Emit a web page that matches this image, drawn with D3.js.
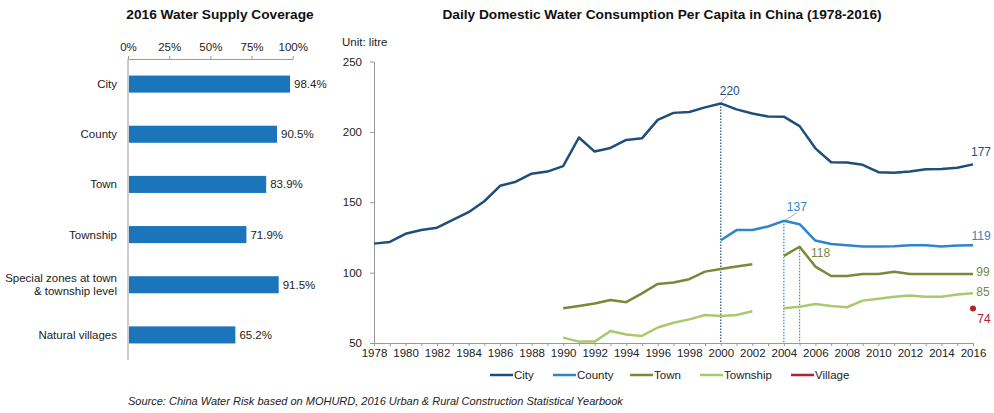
<!DOCTYPE html>
<html>
<head>
<meta charset="utf-8">
<script src="https://cdn.jsdelivr.net/npm/d3@7"></script>
<style>
  body { margin: 0; background: #fff; }
  svg { font-family: "Liberation Sans", Arial, sans-serif; }
  .axis text { fill: #222; font-size: 11.5px; }
  .axis path, .axis line { stroke: #999; }
</style>
</head>
<body>
<svg width="994" height="413"></svg>
<script>
// Bar chart data
let coverageCats = ['City', 'County', 'Town', 'Township', 'Special zones at town|& township level', 'Natural villages']
let coverageVals = [98.4, 90.5, 83.9, 71.9, 91.5, 65.2]
let pctTicks = [0, 25, 50, 75, 100]

// Line chart data
let years = d3.range(1978, 2017)
let yTicks = [50, 100, 150, 200, 250]
let city = [120.6, 121.8, 127.6, 130.3, 131.9, 137.5, 142.9, 150.7, 161.7, 164.6, 170.3, 171.8, 175.7,
            196.0, 186.0, 188.6, 194.3, 195.4, 208.5, 213.5, 214.1, 217.4, 220.2, 216.0, 213.0, 210.9,
            210.8, 204.1, 188.3, 178.4, 178.2, 176.6, 171.4, 170.9, 171.8, 173.5, 173.7, 174.5, 176.9]
let county = [null, null, null, null, null, null, null, null, null, null, null, null, null,
              null, null, null, null, null, null, null, null, null, 123.0, 130.2, 130.3, 132.8,
              136.8, 134.4, 122.8, 120.4, 119.5, 118.5, 118.5, 118.7, 119.5, 119.5, 118.5, 119.3, 119.4]
let town = [null, null, null, null, null, null, null, null, null, null, null, null, 74.7,
            76.3, 78.0, 80.6, 79.0, 85.3, 92.0, 93.0, 95.3, 100.7, 102.6, 104.3, 106.0, null,
            111.9, 118.4, 104.3, 97.6, 97.6, 99.0, 99.0, 100.7, 99.0, 99.0, 99.0, 99.0, 99.0]
let township = [null, null, null, null, null, null, null, null, null, null, null, null, 53.8,
                51.0, 51.0, 58.5, 56.0, 55.0, 61.0, 64.4, 66.8, 69.9, 69.2, 69.9, 72.5, null,
                74.7, 75.8, 77.7, 76.3, 75.4, 80.1, 81.5, 82.9, 83.7, 82.9, 82.9, 84.4, 85.3]
let village2016 = 74.6

let svg = d3.select('svg')

// ---------- Left: bar chart ----------
let bar = { left: 128, right: 292.7, top: 59, bottom: 360 }

let xPct = d3.scaleLinear().domain([0, 100]).range([bar.left, bar.right])
let yCat = d3.scaleBand().domain(coverageCats).range([bar.top, bar.bottom]).paddingInner(0.66).paddingOuter(0.33)

svg.append('text')
    .attr('x', 220).attr('y', 19)
    .attr('text-anchor', 'middle')
    .style('font-weight', 'bold').style('font-size', '13.7px').style('fill', '#111')
    .text('2016 Water Supply Coverage')

svg.append('g')
    .attr('class', 'axis')
    .attr('transform', `translate(0,${bar.top})`)
    .call(d3.axisTop(xPct).tickValues(pctTicks).tickFormat(d => d + '%').tickSize(3).tickSizeOuter(0))
    .call(g => g.selectAll('text').attr('dy', '-0.2em'))

svg.append('line')
    .attr('x1', bar.left).attr('x2', bar.left)
    .attr('y1', bar.top).attr('y2', bar.bottom)
    .attr('stroke', '#999')

svg.selectAll('.bar')
    .data(coverageCats)
    .enter()
    .append('rect')
    .attr('class', 'bar')
    .attr('x', bar.left + 1)
    .attr('y', d => yCat(d))
    .attr('width', (d, i) => xPct(coverageVals[i]) - bar.left - 1)
    .attr('height', yCat.bandwidth())
    .attr('fill', '#1b75bb')

svg.selectAll('.bar-label')
    .data(coverageCats)
    .enter()
    .append('text')
    .attr('class', 'bar-label')
    .attr('x', (d, i) => xPct(coverageVals[i]) + 4)
    .attr('y', d => yCat(d) + yCat.bandwidth() / 2)
    .attr('dy', '0.35em')
    .style('font-size', '11.5px').style('fill', '#222')
    .text((d, i) => coverageVals[i].toFixed(1) + '%')

svg.selectAll('.cat-label')
    .data(coverageCats)
    .enter()
    .append('text')
    .attr('class', 'cat-label')
    .attr('text-anchor', 'end')
    .style('font-size', '11.5px').style('fill', '#222')
    .each(function(d) {
        let parts = d.split('|')
        let cy = yCat(d) + yCat.bandwidth() / 2
        let t = d3.select(this)
        parts.forEach((p, j) => {
            t.append('tspan')
                .attr('x', 117)
                .attr('y', cy + (j - (parts.length - 1) / 2) * 13)
                .attr('dy', '0.35em')
                .text(p)
        })
    })

// ---------- Right: line chart ----------
let plot = { left: 374, right: 973, top: 61.5, bottom: 343 }

let x = d3.scaleLinear().domain([1978, 2016]).range([plot.left, plot.right])
let y = d3.scaleLinear().domain([50, 250]).range([plot.bottom, plot.top])

svg.append('text')
    .attr('x', 662).attr('y', 19)
    .attr('text-anchor', 'middle')
    .style('font-weight', 'bold').style('font-size', '13.7px').style('fill', '#111')
    .text('Daily Domestic Water Consumption Per Capita in China (1978-2016)')

svg.append('text')
    .attr('x', 342).attr('y', 46)
    .style('font-size', '11.5px').style('fill', '#222')
    .text('Unit: litre')

svg.append('g')
    .attr('class', 'axis')
    .attr('transform', `translate(${plot.left},0)`)
    .call(d3.axisLeft(y).tickValues(yTicks).tickSize(4).tickSizeOuter(0).tickPadding(8))

svg.append('g')
    .attr('class', 'axis')
    .attr('transform', `translate(0,${plot.bottom})`)
    .call(d3.axisBottom(x).tickValues(years).tickSize(3).tickSizeOuter(0)
        .tickFormat(d => d % 2 === 0 ? d : ''))

let colors = { City: '#1f4e79', County: '#2e86c8', Town: '#77893b', Township: '#aac96f', Village: '#b5202e' }

// dotted drop lines
let drops = [
    { year: 2000, v: city[22], c: colors.City },
    { year: 2004, v: county[26], c: colors.County },
    { year: 2005, v: town[27], c: colors.Town }
]
svg.selectAll('.drop')
    .data(drops)
    .enter()
    .append('line')
    .attr('x1', d => x(d.year)).attr('x2', d => x(d.year))
    .attr('y1', d => y(d.v)).attr('y2', plot.bottom)
    .attr('stroke', d => d.c)
    .attr('stroke-width', 1.2)
    .attr('stroke-dasharray', '1.5,1.5')

let line = d3.line()
    .defined(d => d[1] !== null)
    .x(d => x(d[0]))
    .y(d => y(d[1]))

let series = [
    { name: 'Township', vals: township },
    { name: 'Town', vals: town },
    { name: 'County', vals: county },
    { name: 'City', vals: city }
]

svg.selectAll('.series')
    .data(series)
    .enter()
    .append('path')
    .attr('class', 'series')
    .attr('d', d => line(years.map((yr, i) => [yr, d.vals[i]])))
    .style('fill', 'none')
    .style('stroke', d => colors[d.name])
    .style('stroke-width', 2.5)
    .style('stroke-linejoin', 'round')

svg.append('circle')
    .attr('cx', x(2016)).attr('cy', y(village2016))
    .attr('r', 3)
    .attr('fill', colors.Village)

// leader lines
svg.append('line')
    .attr('x1', x(2000) + 1).attr('y1', y(city[22]) - 2)
    .attr('x2', x(2000) + 7).attr('y2', y(city[22]) - 8)
    .attr('stroke', '#aaa')
svg.append('line')
    .attr('x1', x(2004) + 2).attr('y1', y(county[26]) - 1)
    .attr('x2', x(2004) + 13).attr('y2', y(county[26]) - 8)
    .attr('stroke', '#aaa')

// value labels
let labels = [
    { t: '220', xv: 2000, v: city[22], dx: 9, dy: -13, c: colors.City },
    { t: '137', xv: 2004, v: county[26], dx: 13, dy: -14, c: colors.County },
    { t: '118', xv: 2005, v: town[27], dx: 21, dy: 6, c: colors.Town },
    { t: '177', xv: 2016, v: city[38], dx: 8, dy: -13, c: colors.City },
    { t: '119', xv: 2016, v: county[38], dx: 8, dy: -10, c: colors.County },
    { t: '99', xv: 2016, v: town[38], dx: 10, dy: -2, c: colors.Town },
    { t: '85', xv: 2016, v: township[38], dx: 10, dy: -2, c: colors.Town },
    { t: '74', xv: 2016, v: village2016, dx: 11, dy: 10, c: colors.Village }
]
svg.selectAll('.val-label')
    .data(labels)
    .enter()
    .append('text')
    .attr('class', 'val-label')
    .attr('x', d => x(d.xv) + d.dx)
    .attr('y', d => y(d.v) + d.dy)
    .attr('dy', '0.35em')
    .attr('text-anchor', 'middle')
    .style('font-size', '12px')
    .style('fill', d => d.c)
    .text(d => d.t)

// legend
let legendItems = ['City', 'County', 'Town', 'Township', 'Village']
let legendX = [490, 553, 630, 700, 791]
let legend = svg.selectAll('.legend')
    .data(legendItems)
    .enter()
    .append('g')
    .attr('class', 'legend')
    .attr('transform', (d, i) => `translate(${legendX[i]},375)`)
legend.append('line')
    .attr('x1', 0).attr('x2', 23)
    .attr('stroke', d => colors[d])
    .attr('stroke-width', 2.5)
legend.append('text')
    .attr('x', 24).attr('dy', '0.35em')
    .style('font-size', '11.5px').style('fill', '#222')
    .text(d => d)

// source
svg.append('text')
    .attr('x', 128).attr('y', 405)
    .style('font-size', '11px').style('font-style', 'italic').style('fill', '#222')
    .text('Source: China Water Risk based on MOHURD, 2016 Urban & Rural Construction Statistical Yearbook')
</script>
</body>
</html>
